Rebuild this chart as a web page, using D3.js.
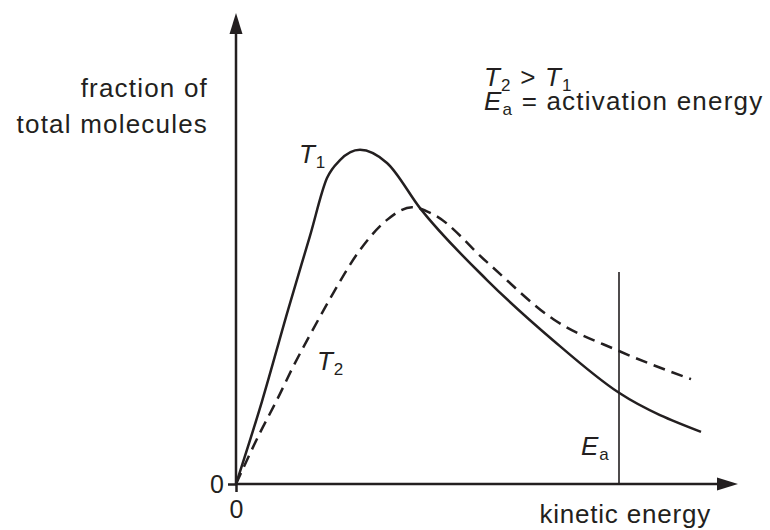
<!DOCTYPE html>
<html>
<head>
<meta charset="utf-8">
<script src="https://cdn.jsdelivr.net/npm/d3@7"></script>
<style>
  body { margin: 0; background: #fff; }
</style>
</head>
<body>
<div id="chart"></div>
<script>
// Maxwell-Boltzmann style distribution at two temperatures
// kinetic energy (arbitrary units) vs fraction of total molecules
const t1Energy   = [0, 5.2, 10.4, 14.8, 18.2, 20.8, 24.8, 30.2, 36.8, 50.2, 63.4, 76.6, 93]
const t1Fraction = [0, 17.6, 37.0, 52.8, 65.1, 68.9, 71.1, 68.3, 58.7, 43.4, 30.6, 19.4, 11.1]
const t2Energy   = [0, 4.8, 8.2, 11.4, 15, 18.8, 24.8, 30.2, 35.2, 39.4, 50.2, 63.4, 76.6, 91]
const t2Fraction = [0, 10.9, 17.9, 24.9, 32.1, 39.4, 49.8, 56.2, 58.9, 57.4, 47.2, 35.1, 28.3, 22.3]
const activationEnergy = 76.6
const eaLineTop = 45.1
const xTickValues = [0]
const yTickValues = [0]

const width = 770,
      height = 530,
      ink = '#231f20',
      font = '"Liberation Sans", Arial, Helvetica, sans-serif'

const x = d3.scaleLinear().domain([0, 100]).range([236, 736])
const y = d3.scaleLinear().domain([0, 100]).range([484, 14])

const svg = d3.select('#chart')
    .append('svg')
    .attr('width', width)
    .attr('height', height)
    .attr('font-family', font)

const t1 = t1Energy.map((e, i) => [e, t1Fraction[i]])
const t2 = t2Energy.map((e, i) => [e, t2Fraction[i]])

const line = d3.line()
    .x(d => x(d[0]))
    .y(d => y(d[1]))
    .curve(d3.curveMonotoneX)

// axes: ticks at 0 make the short overhangs past the origin
const xAxis = d3.axisBottom(x).tickValues(xTickValues).tickSize(8).tickPadding(8).tickSizeOuter(0)
const yAxis = d3.axisLeft(y).tickValues(yTickValues).tickSize(8).tickPadding(4).tickSizeOuter(0)

svg.append('g')
    .attr('transform', `translate(0,${y(0)})`)
    .call(xAxis)
    .call(g => g.select('.domain').remove())
    .call(g => g.selectAll('line').attr('stroke', ink).attr('stroke-width', 2.5))
    .call(g => g.selectAll('text').attr('font-size', 25).attr('fill', ink).attr('font-family', font))

svg.append('g')
    .attr('transform', `translate(${x(0)},0)`)
    .call(yAxis)
    .call(g => g.select('.domain').remove())
    .call(g => g.selectAll('line').attr('stroke', ink).attr('stroke-width', 2.5))
    .call(g => g.selectAll('text').attr('font-size', 25).attr('fill', ink).attr('font-family', font))

// axis lines with arrow heads
const xEnd = x.range()[1] + 2,
      yEnd = y.range()[1] - 1

svg.append('line')
    .attr('x1', x(0) - 1).attr('y1', y(0))
    .attr('x2', xEnd - 18).attr('y2', y(0))
    .attr('stroke', ink).attr('stroke-width', 2.5)

svg.append('path')
    .attr('d', `M${xEnd},${y(0)} L${xEnd - 21},${y(0) - 6.5} L${xEnd - 21},${y(0) + 6.5} Z`)
    .attr('fill', ink)

svg.append('line')
    .attr('x1', x(0)).attr('y1', y(0) + 1)
    .attr('x2', x(0)).attr('y2', yEnd + 18)
    .attr('stroke', ink).attr('stroke-width', 2.5)

svg.append('path')
    .attr('d', `M${x(0)},${yEnd} L${x(0) - 6.5},${yEnd + 21} L${x(0) + 6.5},${yEnd + 21} Z`)
    .attr('fill', ink)

// activation energy marker
svg.append('line')
    .attr('x1', x(activationEnergy)).attr('y1', y(0))
    .attr('x2', x(activationEnergy)).attr('y2', y(eaLineTop))
    .attr('stroke', ink).attr('stroke-width', 1.6)

// curves
svg.append('path')
    .datum(t2)
    .attr('fill', 'none')
    .attr('stroke', ink)
    .attr('stroke-width', 2.5)
    .attr('stroke-dasharray', '12,7')
    .attr('d', line)

svg.append('path')
    .datum(t1)
    .attr('fill', 'none')
    .attr('stroke', ink)
    .attr('stroke-width', 2.5)
    .attr('d', line)

// text with italic symbols and subscripts
function label(px, py, parts, size, anchor, spacing) {
    const t = svg.append('text')
        .attr('x', px).attr('y', py)
        .attr('font-size', size)
        .attr('fill', ink)
        .attr('letter-spacing', spacing || 0)
        .attr('text-anchor', anchor || 'start')
    let shift = 0
    parts.forEach(p => {
        const s = t.append('tspan').text(p.t)
        if (p.i) s.attr('font-style', 'italic')
        if (p.sub) {
            s.attr('font-size', 17).attr('dy', 5 - shift)
            shift = 5
        } else if (shift) {
            s.attr('dy', -shift)
            shift = 0
        }
    })
    return t
}

label(208, 97, [{t: 'fraction of'}], 26, 'end', 1.2)
label(208, 133, [{t: 'total molecules'}], 26, 'end', 1.2)
label(711, 523, [{t: 'kinetic energy'}], 26, 'end', 0.8)

label(484, 86, [{t: 'T', i: true}, {t: '2', sub: true}, {t: ' > '}, {t: 'T', i: true}, {t: '1', sub: true}], 26, 'start', 1.2)
label(484, 110, [{t: 'E', i: true}, {t: 'a', sub: true}, {t: ' = activation energy'}], 26, 'start', 1.2)

label(299, 163, [{t: 'T', i: true}, {t: '1', sub: true}], 26, 'start', 0.8)
label(317, 370, [{t: 'T', i: true}, {t: '2', sub: true}], 26, 'start', 0.8)
label(581, 455, [{t: 'E', i: true}, {t: 'a', sub: true}], 26, 'start', 0.8)
</script>
</body>
</html>
